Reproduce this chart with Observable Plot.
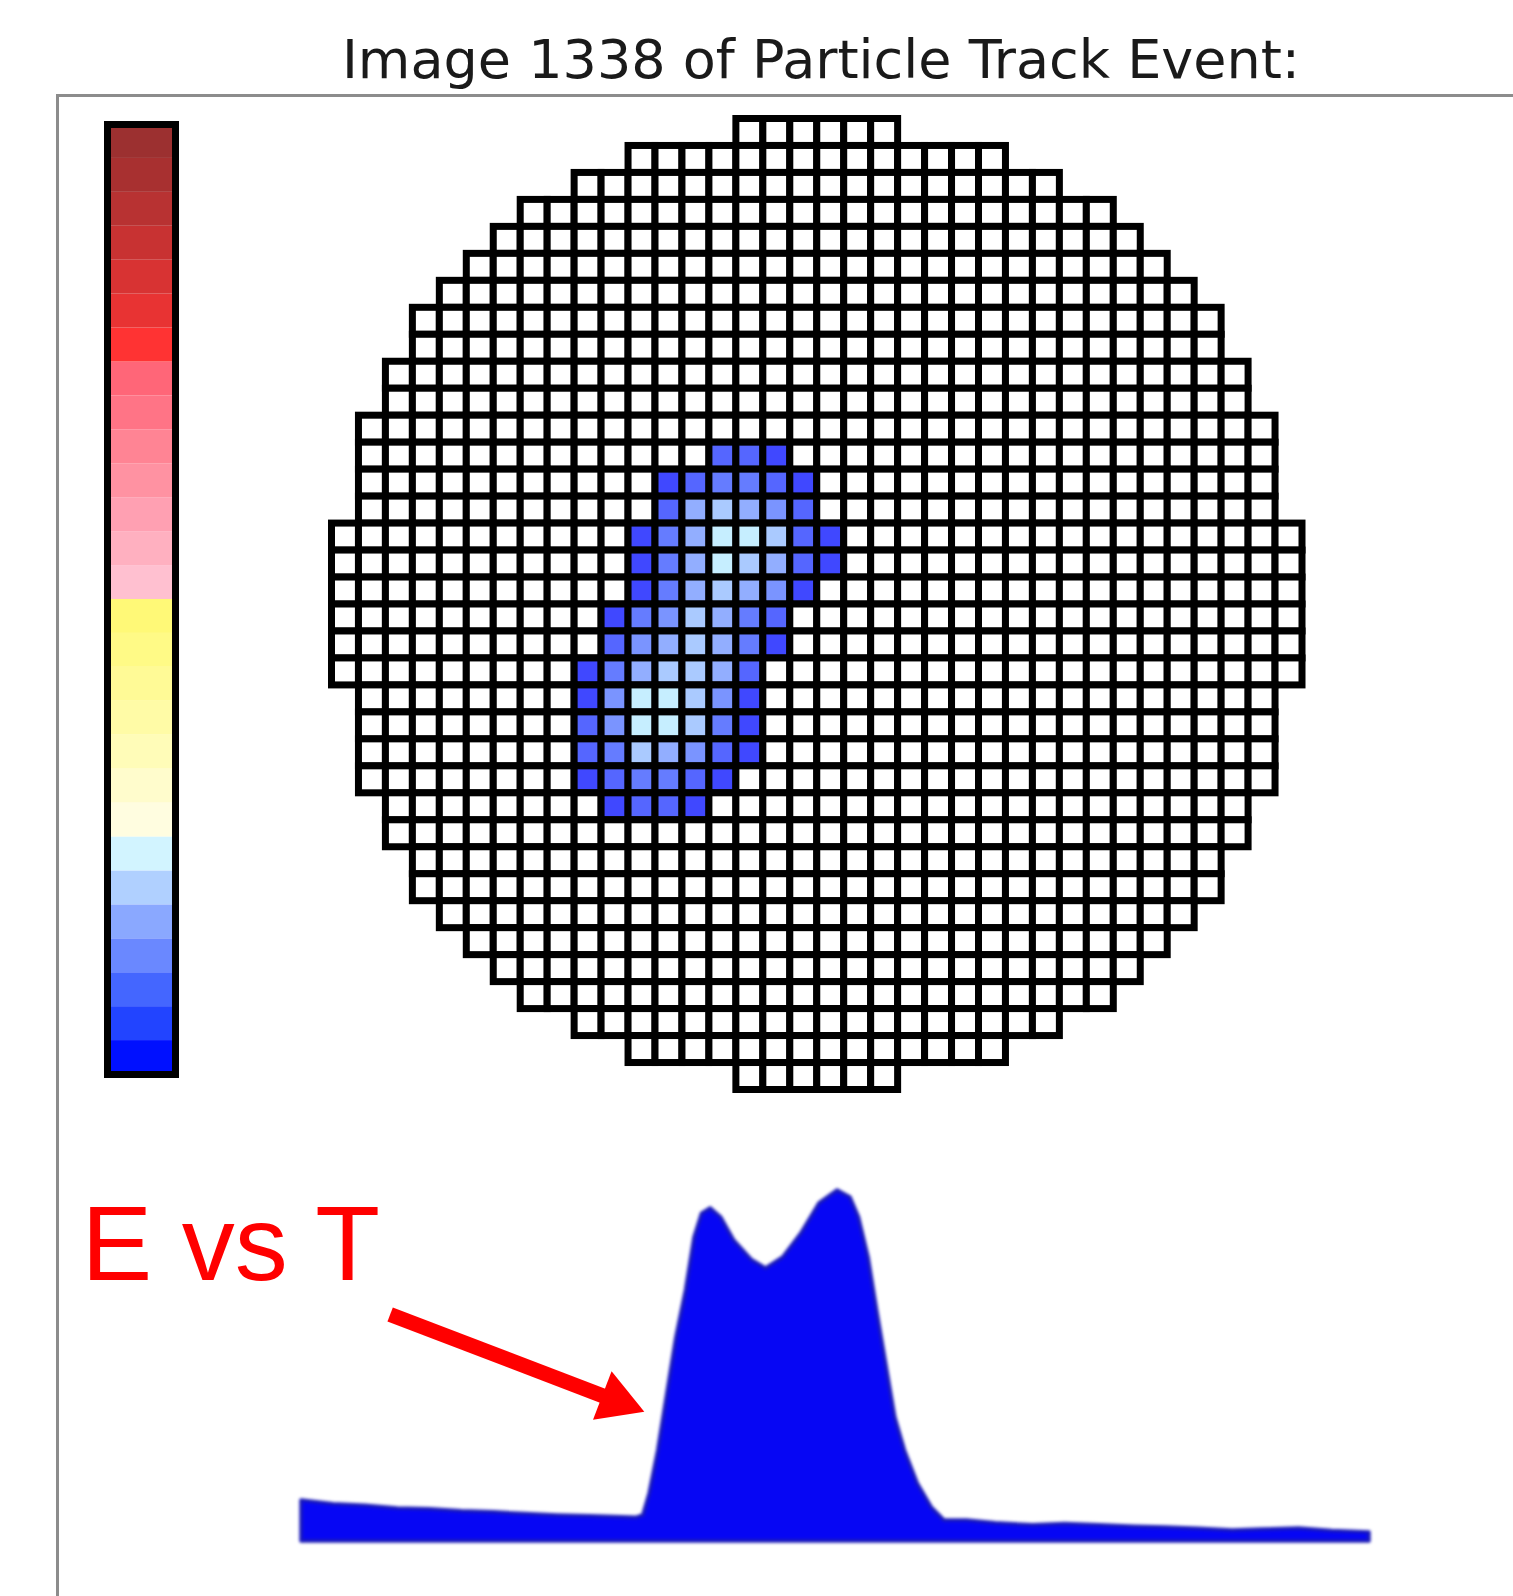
<!DOCTYPE html>
<html>
<head>
<meta charset="utf-8">
<script src="https://cdn.jsdelivr.net/npm/d3@7"></script>
<script src="https://cdn.jsdelivr.net/npm/@observablehq/plot@0.6"></script>
<style>
  html, body { margin: 0; padding: 0; background: #ffffff; }
  #page { position: relative; width: 1513px; height: 1596px; overflow: hidden; background: #ffffff; }
  #page > * { position: absolute; }
  #title { left: 0; width: 1642px; top: 33px; text-align: center; font-family: "DejaVu Sans", sans-serif; font-size: 54px; line-height: 54px; color: #1a1a1a; white-space: nowrap; }
  #axesFrame { left: 56px; top: 94px; width: 1457px; height: 1502px; box-sizing: border-box; border-top: 3px solid #8c8c8c; border-left: 3px solid #8c8c8c; }
  .detector g[aria-label="cell"] { filter: blur(0.7px); }
  .cbar g[aria-label="cell"], .cbar g[aria-label="frame"] { filter: blur(0.6px); }
  .evst g[aria-label="area"] { filter: blur(1.4px); }
</style>
</head>
<body>
<div id="page">
  <div id="axesFrame"></div>
  <div id="title">Image 1338 of Particle Track Event:</div>
</div>
<script>
// ---------------- DATA ----------------
const titleText = "Image 1338 of Particle Track Event:";

// colour bar: 28 levels, bottom (0) to top (27)
const colorbarLevels = d3.range(28);
const colorbarPalette = [
  "#0010ff", "#2244ff", "#4466ff", "#6a88ff", "#8aa8ff", "#b0d0ff", "#d2f4ff",
  "#fffde0", "#fffccc", "#fffcb8", "#fffba6", "#fffa96", "#fffa86", "#fff977",
  "#ffc0d0", "#ffb0c0", "#ffa0b2", "#ff92a2", "#ff8494", "#ff7486", "#ff6678",
  "#ff3333", "#e83333", "#d83333", "#c83232", "#b83232", "#a83030", "#9c3030"
];

// detector: 36 x 36 pixel grid with a circular outline (half width of every row, in pixels)
const gridSize = 36;
const rowHalfWidths = [3, 7, 9, 11, 12, 13, 14, 15, 15, 16, 16, 17, 17, 17, 17, 18, 18, 18,
                       18, 18, 18, 17, 17, 17, 17, 16, 16, 15, 15, 14, 13, 12, 11, 9, 7, 3];

// hit pixels: row, first column, and energy level of each successive pixel (1 = low ... 7 = high)
const hitRows  = [12, 13, 14, 15, 16, 17, 18, 19, 20, 21, 22, 23, 24, 25];
const hitStart = [14, 12, 12, 11, 11, 11, 10, 10,  9,  9,  9,  9,  9, 10];
const hitLevels = [
  [2, 2, 1],
  [1, 2, 3, 3, 2, 1],
  [2, 5, 6, 5, 4, 2],
  [1, 3, 5, 7, 7, 6, 2, 1],
  [1, 3, 5, 7, 6, 5, 2, 1],
  [1, 3, 5, 6, 5, 4, 1],
  [1, 3, 4, 6, 5, 3, 2],
  [2, 4, 5, 6, 5, 3, 1],
  [1, 3, 5, 6, 6, 5, 2],
  [1, 4, 7, 7, 6, 4, 1],
  [2, 4, 7, 7, 6, 3, 1],
  [2, 3, 6, 5, 4, 2, 1],
  [1, 2, 3, 3, 2, 1],
  [1, 2, 2, 1]
];
const pixelLevelColors = ["#ffffff", "#4048ff", "#5566ff", "#657cff", "#7a94ff", "#92aeff", "#aacaff", "#c6eeff"];

// energy vs time trace
const timeBins = [0, 3, 6, 9, 12, 15, 18, 21, 24, 27, 30, 31.4, 32.0, 32.6, 33.4, 34.3, 35.1, 36.0, 36.8, 37.5,
                  38.3, 39.3, 40.5, 42.2, 43.5, 45.1, 46.8, 48.5, 50.2, 51.4, 52.2, 53.1, 53.9, 54.8, 55.6, 56.5,
                  57.7, 59.0, 60.2, 62.3, 65, 68.5, 71.5, 74.7, 78, 80.9, 84, 87.2, 90, 93.4, 96.5, 100];
const energies = [11.7, 10.6, 10.2, 9.4, 9.2, 8.6, 8.3, 7.8, 7.4, 7.2, 6.9, 6.8, 7.4, 13.7, 25.9, 43.0, 58.1, 71.5, 86.6, 93.4,
                  94.9, 92.3, 85.8, 80.1, 77.8, 80.9, 87.7, 96.3, 100, 98.0, 92.3, 80.9, 65.8, 49.6, 35.3, 25.9,
                  16.5, 9.7, 6.0, 6.0, 5.2, 4.6, 5.0, 4.6, 4.2, 4.0, 3.6, 3.1, 3.4, 3.7, 3.0, 2.6];

// annotation
const annotationLabel = "E vs T";
const labelAt = {t: -20.6, e: 74.6};
const arrowFrom = {t: 8.3, e: 64.7};
const arrowTo = {t: 32.1, e: 37.0};

// ---------------- BUILD ----------------
const page = document.getElementById("page");
document.getElementById("title").textContent = titleText;

function place(svg, left, top) {
  svg.style.position = "absolute";
  svg.style.left = left + "px";
  svg.style.top = top + "px";
  svg.style.background = "transparent";
  svg.style.maxWidth = "none";
  svg.style.overflow = "visible";
  page.appendChild(svg);
}

// colour bar
const cbar = Plot.plot({
  className: "cbar",
  width: 300, height: 1100,
  marginLeft: 107, marginRight: 125, marginTop: 124, marginBottom: 26,
  y: {type: "band", domain: colorbarLevels.slice().reverse(), padding: 0, round: false, axis: null},
  color: {type: "identity"},
  marks: [
    Plot.cell(colorbarLevels, {y: d => d, fill: d => colorbarPalette[d], inset: 0}),
    Plot.frame({stroke: "black", strokeWidth: 7})
  ]
});
place(cbar, 0, 0);

// detector grid
const pixels = [];
rowHalfWidths.forEach((hw, row) => {
  for (let col = gridSize / 2 - hw; col < gridSize / 2 + hw; col++) pixels.push({row, col, level: 0});
});
hitRows.forEach((row, i) => {
  hitLevels[i].forEach((lv, j) => {
    const p = pixels.find(d => d.row === row && d.col === hitStart[i] + j);
    if (p) p.level = lv;
  });
});
const detector = Plot.plot({
  className: "detector",
  width: 1213, height: 1100,
  marginLeft: 31.5, marginRight: 211, marginTop: 118.5, marginBottom: 10.5,
  x: {type: "band", domain: d3.range(gridSize), padding: 0, round: false, axis: null},
  y: {type: "band", domain: d3.range(gridSize), padding: 0, round: false, axis: null},
  color: {type: "ordinal", domain: d3.range(pixelLevelColors.length), range: pixelLevelColors},
  marks: [
    Plot.cell(pixels, {x: "col", y: "row", fill: "level", stroke: "#000000", strokeWidth: 7, inset: 0})
  ]
});
place(detector, 300, 0);

// energy vs time
const trace = timeBins.map((t, i) => ({t, e: energies[i]}));
const xRange = [301, 1369], yRange = [441, 90];
const sx = d3.scaleLinear([0, 100], xRange), sy = d3.scaleLinear([0, 100], yRange);
const px0 = sx(arrowFrom.t), py0 = sy(arrowFrom.e), px1 = sx(arrowTo.t), py1 = sy(arrowTo.e);
const len = Math.hypot(px1 - px0, py1 - py0);
const ux = (px1 - px0) / len, uy = (py1 - py0) / len;
const angle = Math.atan2(uy, ux) * 180 / Math.PI;
const headHalf = 15; // symbol geometry
const head = {t: sx.invert(px1 - ux * 2 * headHalf), e: sy.invert(py1 - uy * 2 * headHalf)};
const headR = Math.sqrt(3 * Math.sqrt(3) * headHalf * headHalf / Math.PI);

const evst = Plot.plot({
  className: "evst",
  width: 1513, height: 496,
  margin: 0,
  x: {domain: [0, 100], range: xRange, axis: null},
  y: {domain: [0, 100], range: yRange, axis: null},
  marks: [
    Plot.areaY(trace, {x: "t", y: "e", fill: "#0606f4", stroke: "#1c1cb8", strokeWidth: 3.5, curve: "linear"}),
    Plot.link([{from: arrowFrom, to: head}], {
      x1: d => d.from.t, y1: d => d.from.e, x2: d => d.to.t, y2: d => d.to.e,
      stroke: "#ff0000", strokeWidth: 15, strokeLinecap: "butt"
    }),
    Plot.dot([head], {x: "t", y: "e", symbol: "triangle", r: headR, fill: "#ff0000", stroke: "none", rotate: 90 + angle}),
    Plot.text([labelAt], {x: "t", y: "e", text: () => annotationLabel, textAnchor: "start", lineAnchor: "bottom",
      fill: "#ff0000", fontSize: 106, fontFamily: "Liberation Sans, Arial, sans-serif"})
  ]
});
place(evst, 0, 1100);
</script>
</body>
</html>
